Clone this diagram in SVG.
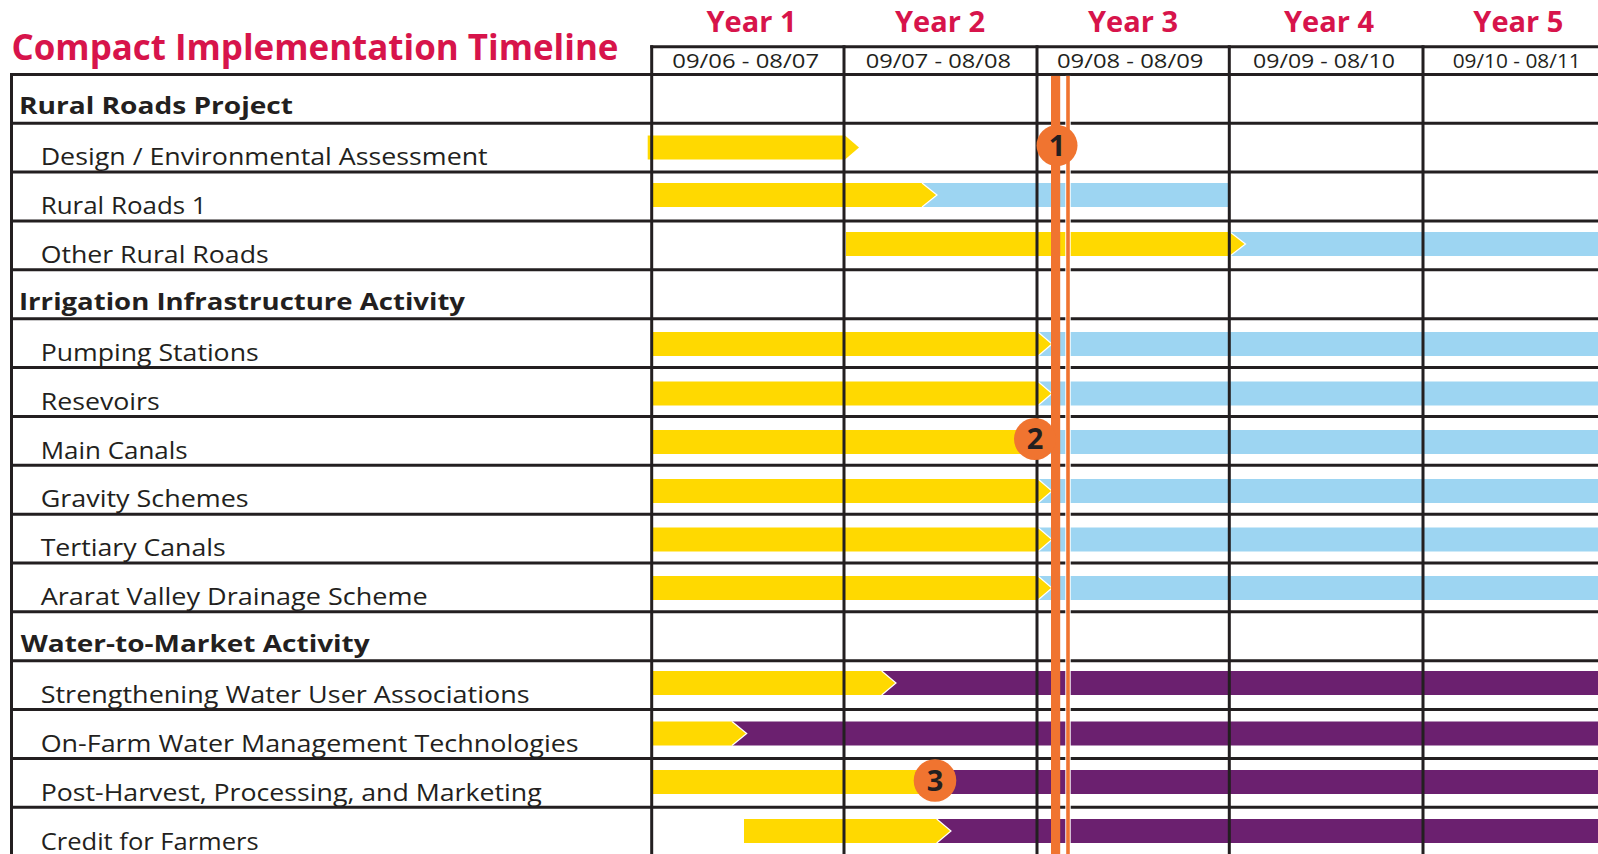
<svg xmlns="http://www.w3.org/2000/svg" width="1598" height="854" viewBox="0 0 1598 854">
<style>
.title{font-family:"Open Sans","Liberation Sans",sans-serif;font-weight:700;font-size:35px;fill:#D7144B}
.year{font-family:"Open Sans","Liberation Sans",sans-serif;font-weight:700;font-size:29px;fill:#D7144B;text-anchor:middle}
.date{font-family:"Open Sans","Liberation Sans",sans-serif;font-size:20px;fill:#231F20;text-anchor:middle}
.hdr{font-family:"Open Sans","Liberation Sans",sans-serif;font-weight:700;font-size:24px;fill:#231F20}
.lbl{font-family:"Open Sans","Liberation Sans",sans-serif;font-size:24px;fill:#231F20}
.num{font-family:"Open Sans","Liberation Sans",sans-serif;font-weight:700;font-size:29px;fill:#231F20;text-anchor:middle}
.y{fill:#FFD900}
.b{fill:#9DD5F2}
.p{fill:#6B206F}
.chev{fill:none;stroke:#fff;stroke-width:1.2}
.grid{stroke:#231F20;stroke-width:3;fill:none}
.ms{fill:#F07430}
</style>
<rect width="1598" height="854" fill="#fff"/>

<g id="title">
<text class="title" x="11.5" y="60" textLength="607" lengthAdjust="spacingAndGlyphs">Compact Implementation Timeline</text>
</g>

<g id="header">
<text class="year" x="751.5" y="32.3">Year 1</text>
<text class="year" x="940" y="32.3">Year 2</text>
<text class="year" x="1133" y="32.3">Year 3</text>
<text class="year" x="1329" y="32.3">Year 4</text>
<text class="year" x="1518.3" y="32.3">Year 5</text>
<text class="date" x="745.7" y="67.5" textLength="146.7" lengthAdjust="spacingAndGlyphs">09/06 - 08/07</text>
<text class="date" x="938.3" y="67.5" textLength="145.3" lengthAdjust="spacingAndGlyphs">09/07 - 08/08</text>
<text class="date" x="1130.2" y="67.5" textLength="146.5" lengthAdjust="spacingAndGlyphs">09/08 - 08/09</text>
<text class="date" x="1324" y="67.5" textLength="142" lengthAdjust="spacingAndGlyphs">09/09 - 08/10</text>
<text class="date" x="1516.7" y="67.5" textLength="128" lengthAdjust="spacingAndGlyphs">09/10 - 08/11</text>
</g>

<g id="row-rural-roads-project">
<text class="hdr" x="19" y="114.3" textLength="274" lengthAdjust="spacingAndGlyphs">Rural Roads Project</text>
</g>
<g id="row-design">
<text class="lbl" x="40.7" y="165.4" textLength="447" lengthAdjust="spacingAndGlyphs">Design / Environmental Assessment</text>
<path class="y" d="M647.7 135.5H845L859 147.5L845 159.5H647.7Z"/>
</g>
<g id="row-rural-roads-1">
<text class="lbl" x="40.7" y="214.3" textLength="166" lengthAdjust="spacingAndGlyphs">Rural Roads 1</text>
<rect class="b" x="922" y="183" width="307" height="24"/>
<path class="y" d="M653 183H922L937 195L922 207H653Z"/>
<polyline class="chev" points="922,183 937,195 922,207"/>
</g>
<g id="row-other-rural-roads">
<text class="lbl" x="40.7" y="263.1" textLength="228" lengthAdjust="spacingAndGlyphs">Other Rural Roads</text>
<rect class="b" x="1230" y="232" width="368" height="24"/>
<path class="y" d="M846 232H1230L1245.5 244L1230 256H846Z"/>
<polyline class="chev" points="1230,232 1245.5,244 1230,256"/>
</g>

<g id="row-irrigation">
<text class="hdr" x="19" y="310.2" textLength="446" lengthAdjust="spacingAndGlyphs">Irrigation Infrastructure Activity</text>
</g>
<g id="row-pumping">
<text class="lbl" x="40.7" y="360.9" textLength="218" lengthAdjust="spacingAndGlyphs">Pumping Stations</text>
<rect class="b" x="1038" y="332" width="560" height="24"/>
<path class="y" d="M653 332H1038L1052 344L1038 356H653Z"/>
<polyline class="chev" points="1038,332 1052,344 1038,356"/>
</g>
<g id="row-resevoirs">
<text class="lbl" x="40.7" y="409.7" textLength="119" lengthAdjust="spacingAndGlyphs">Resevoirs</text>
<rect class="b" x="1038" y="381.5" width="560" height="24"/>
<path class="y" d="M653 381.5H1038L1052 393.5L1038 405.5H653Z"/>
<polyline class="chev" points="1038,381.5 1052,393.5 1038,405.5"/>
</g>
<g id="row-main-canals">
<text class="lbl" x="40.7" y="458.6" textLength="147" lengthAdjust="spacingAndGlyphs">Main Canals</text>
<rect class="b" x="1036" y="430" width="562" height="24"/>
<rect class="y" x="653" y="430" width="383" height="24"/>
</g>
<g id="row-gravity">
<text class="lbl" x="40.7" y="507.4" textLength="208" lengthAdjust="spacingAndGlyphs">Gravity Schemes</text>
<rect class="b" x="1038" y="479" width="560" height="24"/>
<path class="y" d="M653 479H1038L1052 491L1038 503H653Z"/>
<polyline class="chev" points="1038,479 1052,491 1038,503"/>
</g>
<g id="row-tertiary">
<text class="lbl" x="40.7" y="556.3" textLength="185" lengthAdjust="spacingAndGlyphs">Tertiary Canals</text>
<rect class="b" x="1038" y="527.5" width="560" height="24"/>
<path class="y" d="M653 527.5H1038L1052 539.5L1038 551.5H653Z"/>
<polyline class="chev" points="1038,527.5 1052,539.5 1038,551.5"/>
</g>
<g id="row-ararat">
<text class="lbl" x="40.7" y="605.2" textLength="387" lengthAdjust="spacingAndGlyphs">Ararat Valley Drainage Scheme</text>
<rect class="b" x="1038" y="576" width="560" height="24"/>
<path class="y" d="M653 576H1038L1052 588L1038 600H653Z"/>
<polyline class="chev" points="1038,576 1052,588 1038,600"/>
</g>

<g id="row-water-to-market">
<text class="hdr" x="20.7" y="652.2" textLength="349" lengthAdjust="spacingAndGlyphs">Water-to-Market Activity</text>
</g>
<g id="row-strengthening">
<text class="lbl" x="40.7" y="702.9" textLength="489" lengthAdjust="spacingAndGlyphs">Strengthening Water User Associations</text>
<rect class="p" x="881.7" y="671" width="716.3" height="24"/>
<path class="y" d="M653 671H881.7L896 683L881.7 695H653Z"/>
<polyline class="chev" points="881.7,671 896,683 881.7,695"/>
</g>
<g id="row-on-farm">
<text class="lbl" x="40.7" y="751.7" textLength="538" lengthAdjust="spacingAndGlyphs">On-Farm Water Management Technologies</text>
<rect class="p" x="732" y="721.5" width="866" height="24"/>
<path class="y" d="M653 721.5H732L746.7 733.5L732 745.5H653Z"/>
<polyline class="chev" points="732,721.5 746.7,733.5 732,745.5"/>
</g>
<g id="row-post-harvest">
<text class="lbl" x="40.7" y="800.6" textLength="501" lengthAdjust="spacingAndGlyphs">Post-Harvest, Processing, and Marketing</text>
<rect class="p" x="935" y="770" width="663" height="24"/>
<rect class="y" x="653" y="770" width="282" height="24"/>
</g>
<g id="row-credit">
<text class="lbl" x="40.7" y="849.5" textLength="218" lengthAdjust="spacingAndGlyphs">Credit for Farmers</text>
<rect class="p" x="936.7" y="819" width="661.3" height="24"/>
<path class="y" d="M744 819H936.7L951 831L936.7 843H744Z"/>
<polyline class="chev" points="936.7,819 951,831 936.7,843"/>
</g>

<g id="grid" class="grid">
<path d="M650.2 46.7H1598"/>
<path d="M11.5 73V854"/>
<path d="M651.7 45.2V854M844 45.2V854M1037 45.2V854M1229.3 45.2V854M1423 45.2V854"/>
<path d="M10 74.4H1598M10 123.26H1598M10 172.12H1598M10 220.98H1598M10 269.84H1598M10 318.7H1598M10 367.56H1598M10 416.42H1598M10 465.28H1598M10 514.14H1598M10 563H1598M10 611.86H1598M10 660.72H1598M10 709.58H1598M10 758.44H1598M10 807.3H1598"/>
</g>

<g id="connectors">
<rect class="ms" x="1051" y="75.9" width="9.2" height="778.1"/>
<rect x="1065.3" y="75.9" width="5.4" height="778.1" fill="#fff"/>
<rect class="ms" x="1066.2" y="75.9" width="3.6" height="778.1"/>
</g>

<g id="milestone-1">
<circle class="ms" cx="1057" cy="145.5" r="20.5"/>
<text class="num" x="1057" y="155.8">1</text>
</g>
<g id="milestone-2">
<circle class="ms" cx="1035" cy="439" r="21"/>
<text class="num" x="1035" y="449.3">2</text>
</g>
<g id="milestone-3">
<circle class="ms" cx="935" cy="780.5" r="21.3"/>
<text class="num" x="935" y="790.8">3</text>
</g>
</svg>
